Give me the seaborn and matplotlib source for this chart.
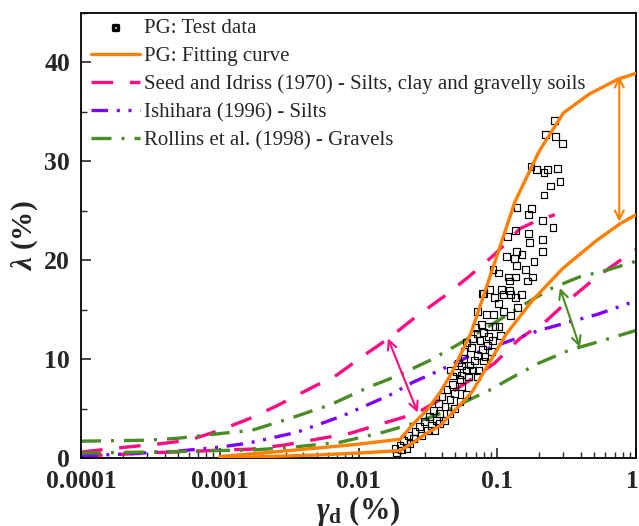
import numpy as np
import pandas as pd
import matplotlib
matplotlib.use("Agg")
import matplotlib.pyplot as plt
import matplotlib.ticker as mticker
import matplotlib.transforms as mtransforms
import seaborn as sns

# ---------------- data ----------------
test_x = [0.257, 0.224, 0.262, 0.297, 0.175, 0.193, 0.230, 0.217, 0.270, 0.283,
          0.243, 0.217, 0.139, 0.176, 0.169, 0.211, 0.252, 0.136, 0.118, 0.168,
          0.171, 0.211, 0.137, 0.151, 0.116, 0.133, 0.213, 0.184, 0.137, 0.0932,
          0.102, 0.160, 0.120, 0.136, 0.122, 0.180, 0.165, 0.078, 0.0888, 0.108,
          0.122, 0.111, 0.149, 0.096, 0.136, 0.080, 0.125, 0.102, 0.0725, 0.0834,
          0.094, 0.111, 0.124, 0.140, 0.0774, 0.087, 0.0964, 0.103, 0.070, 0.0714,
          0.080, 0.086, 0.0924, 0.105, 0.066, 0.060, 0.0752, 0.0845, 0.091, 0.078,
          0.0654, 0.0576, 0.072, 0.0817, 0.069, 0.0794, 0.0576, 0.0554, 0.0637, 0.0735,
          0.0507, 0.0525, 0.0602, 0.0667, 0.0551, 0.0474, 0.0618, 0.0456, 0.0539, 0.0714,
          0.0474, 0.0551, 0.0434, 0.0495, 0.0602, 0.0400, 0.0456, 0.0539, 0.0376, 0.0420,
          0.0495, 0.0345, 0.0386, 0.0456, 0.0327, 0.0366, 0.0420, 0.0301, 0.0335, 0.0386,
          0.0277, 0.0313, 0.0356, 0.0255, 0.0284, 0.0228, 0.0248, 0.0210, 0.0235, 0.0199,
          0.0183, 0.0205, 0.0189, 0.0224]
test_y = [34.1, 32.7, 32.5, 31.8, 29.5, 29.2, 29.2, 28.9, 29.3, 28.0,
          27.5, 26.6, 25.3, 25.2, 24.6, 24.0, 23.3, 23.0, 22.4, 22.7,
          21.8, 22.1, 20.9, 20.6, 20.4, 20.2, 20.9, 19.9, 19.5, 19.1,
          18.7, 19.1, 18.3, 18.3, 17.9, 18.3, 17.9, 16.6, 17.0, 17.0,
          16.9, 16.5, 16.5, 16.2, 16.2, 16.6, 16.5, 15.6, 14.8, 14.5,
          14.5, 14.8, 14.4, 15.2, 13.5, 13.3, 13.3, 13.3, 13.2, 12.6,
          12.7, 12.3, 11.9, 12.4, 12.1, 11.7, 11.9, 11.4, 10.8, 11.0,
          11.2, 10.8, 10.4, 10.3, 9.9, 9.8, 10.1, 9.3, 9.4, 8.9,
          8.7, 9.6, 8.9, 8.9, 8.4, 8.3, 8.2, 8.9, 7.9, 8.2,
          7.4, 7.2, 6.9, 6.5, 6.4, 6.2, 5.9, 5.7, 5.5, 5.2,
          5.0, 4.8, 4.5, 4.5, 4.2, 3.8, 3.8, 3.7, 3.3, 3.5,
          3.2, 2.8, 2.8, 2.7, 2.3, 2.3, 2.0, 1.8, 1.5, 1.3,
          1.0, 0.8, 0.5, 1.0]

pg_up_x = [0.001, 0.002, 0.005, 0.01, 0.02, 0.025, 0.031, 0.0386, 0.047, 0.065,
           0.096, 0.134, 0.2, 0.3, 0.46, 0.74, 1.0]
pg_up_y = [0.15, 0.5, 1.0, 1.4, 1.9, 3.5, 4.8, 6.6, 8.6, 12.7,
           19.8, 25.9, 31.0, 34.9, 36.8, 38.3, 38.9]
pg_lo_x = [0.001, 0.005, 0.01, 0.02, 0.025, 0.031, 0.039, 0.047, 0.056, 0.066,
           0.084, 0.117, 0.181, 0.298, 0.52, 0.77, 1.0]
pg_lo_y = [0.0, 0.3, 0.5, 0.75, 1.6, 2.5, 3.3, 4.5, 5.6, 6.7,
           9.2, 12.6, 16.0, 19.2, 22.0, 23.7, 24.6]

seed_up_x = [1e-4, 1.8e-4, 3.5e-4, 6e-4, 1e-3, 1.65e-3, 2.6e-3, 4.3e-3, 7e-3, 0.011,
             0.0165, 0.026, 0.041, 0.062, 0.096, 0.146, 0.2, 0.26]
seed_up_y = [0.6, 1.0, 1.4, 1.8, 2.8, 4.0, 5.3, 6.9, 8.4, 10.4,
             12.1, 14.3, 16.3, 18.3, 20.6, 23.2, 24.1, 24.6]
seed_lo_x = [1e-4, 1.8e-4, 3.5e-4, 6e-4, 1e-3, 1.7e-3, 2.9e-3, 5e-3, 8.7e-3, 0.015,
             0.026, 0.041, 0.064, 0.096, 0.146, 0.227, 0.33, 0.52, 0.91, 1.0]
seed_lo_y = [0.2, 0.35, 0.55, 0.65, 0.8, 0.9, 1.3, 1.9, 2.5, 3.5,
             4.5, 6.1, 7.9, 9.6, 12.1, 13.9, 16.0, 18.3, 20.7, 21.1]

ishi_x = [1e-4, 2e-4, 5e-4, 1e-3, 1.6e-3, 3.6e-3, 7.8e-3, 0.017, 0.025, 0.035,
          0.07, 0.1, 0.2, 0.32, 0.52, 1.0]
ishi_y = [0.2, 0.4, 0.7, 1.1, 1.5, 2.6, 4.3, 6.4, 7.7, 8.6,
          10.6, 11.4, 12.9, 13.7, 14.5, 15.9]

roll_up_x = [1e-4, 3e-4, 5e-4, 9e-4, 1.7e-3, 3.2e-3, 6.3e-3, 0.012, 0.019, 0.033,
             0.054, 0.089, 0.155, 0.25, 0.39, 0.62, 1.0]
roll_up_y = [1.7, 1.8, 2.0, 2.4, 2.8, 4.0, 5.4, 7.2, 8.3, 9.9,
             11.6, 13.4, 15.5, 17.2, 18.3, 19.0, 19.9]
roll_lo_x = [1e-4, 3e-4, 5e-4, 9e-4, 1.7e-3, 3.4e-3, 7.4e-3, 0.015, 0.025, 0.039,
             0.057, 0.089, 0.13, 0.2, 0.33, 0.52, 1.0]
roll_lo_y = [0.5, 0.6, 0.65, 0.75, 0.8, 1.1, 1.6, 2.6, 3.5, 4.5,
             5.6, 6.9, 8.2, 9.6, 10.9, 11.7, 12.9]

# double arrows: (x_start, y_start, x_end, y_end)
arrow_pg = (0.758, 38.6, 0.758, 23.9)
arrow_seed = (0.0163, 12.1, 0.0267, 4.6)
arrow_roll = (0.283, 17.2, 0.394, 11.2)

x_ticks = [0.0001, 0.001, 0.01, 0.1, 1]
x_tick_labels = ["0.0001", "0.001", "0.01", "0.1", "1"]
y_ticks = [0, 10, 20, 30, 40]

labels = ["PG: Test data", "PG: Fitting curve",
          "Seed and Idriss (1970) - Silts, clay and gravelly soils",
          "Ishihara (1996) - Silts", "Rollins et al. (1998) - Gravels"]

# ---------------- style ----------------
sns.set_theme(style="white")
plt.rcParams["font.family"] = ["Liberation Serif", "DejaVu Serif"]
plt.rcParams["mathtext.fontset"] = "custom"
plt.rcParams["mathtext.it"] = "Liberation Serif:italic:bold"
plt.rcParams["mathtext.bf"] = "Liberation Serif:bold"
plt.rcParams["mathtext.rm"] = "Liberation Serif:bold"

C_OR = "#FF7F00"
C_PK = "#FF0A82"
C_PU = "#8000FF"
C_GR = "#4A8C26"

fig = plt.figure(figsize=(6.39, 5.26), dpi=100)
ax = fig.add_axes([81 / 639, 68 / 526, 555 / 639, 445 / 526])

LW = 2.4
sns.scatterplot(x=test_x, y=test_y, ax=ax, marker="s", s=24, facecolor="none",
                edgecolor="black", linewidth=0.85, label=labels[0], zorder=3)
sns.lineplot(x=pg_up_x, y=pg_up_y, ax=ax, color=C_OR, lw=LW, label=labels[1],
             sort=False, zorder=4)
sns.lineplot(x=pg_lo_x, y=pg_lo_y, ax=ax, color=C_OR, lw=LW, sort=False, zorder=4)

dash_pk = (0, (6.5, 5.0))
dash_pu = (0, (5.0, 2.6, 0.9, 2.6, 0.9, 2.6))
dash_gr = (0, (6.0, 3.0, 0.9, 3.0))
sns.lineplot(x=seed_up_x, y=seed_up_y, ax=ax, color=C_PK, lw=LW, linestyle=dash_pk,
             label=labels[2], sort=False, zorder=2)
sns.lineplot(x=seed_lo_x, y=seed_lo_y, ax=ax, color=C_PK, lw=LW, linestyle=dash_pk,
             sort=False, zorder=2)
sns.lineplot(x=ishi_x, y=ishi_y, ax=ax, color=C_PU, lw=LW, linestyle=dash_pu,
             label=labels[3], sort=False, zorder=2)
sns.lineplot(x=roll_up_x, y=roll_up_y, ax=ax, color=C_GR, lw=LW, linestyle=dash_gr,
             label=labels[4], sort=False, zorder=2)
sns.lineplot(x=roll_lo_x, y=roll_lo_y, ax=ax, color=C_GR, lw=LW, linestyle=dash_gr,
             sort=False, zorder=2)

for arr, col in [(arrow_pg, C_OR), (arrow_seed, C_PK), (arrow_roll, C_GR)]:
    ax.annotate("", xy=(arr[2], arr[3]), xytext=(arr[0], arr[1]),
                arrowprops=dict(arrowstyle="<->", color=col, lw=1.5,
                                mutation_scale=16, shrinkA=0, shrinkB=0),
                zorder=5)

ax.set_xscale("log")
ax.set_xlim(1e-4, 1)
ax.set_ylim(0, 45)
ax.set_xticks(x_ticks)
ax.xaxis.set_major_formatter(mticker.FixedFormatter(x_tick_labels))
ax.xaxis.set_minor_locator(mticker.LogLocator(base=10, subs=np.arange(2, 10)))
ax.xaxis.set_minor_formatter(mticker.NullFormatter())
ax.set_yticks(y_ticks)
ax.yaxis.set_minor_locator(mticker.MultipleLocator(5))

ax.tick_params(which="major", direction="in", length=7, width=1.2,
               labelsize=18.5, top=False, right=False, bottom=True, left=True)
ax.tick_params(axis="x", which="major", pad=9)
ax.tick_params(axis="y", which="major", pad=8)
ax.tick_params(which="minor", direction="in", length=4, width=1.0,
               top=False, right=False, bottom=True, left=True)
xt_labels = ax.get_xticklabels()
for lab in xt_labels + ax.get_yticklabels():
    lab.set_fontweight("bold")
# keep the last x label ("1") inside the figure edge
shift = mtransforms.ScaledTranslation(-4 / 100, 0, fig.dpi_scale_trans)
xt_labels[-1].set_transform(xt_labels[-1].get_transform() + shift)
for sp in ax.spines.values():
    sp.set_color("black")
    sp.set_linewidth(1.3)

ax.set_xlabel(r"$\gamma_{\mathbf{d}}$ (%)", fontsize=22, fontweight="bold", labelpad=0)
ax.set_ylabel(r"$\lambda$ (%)", fontsize=21, fontweight="bold", labelpad=3)

leg = ax.legend(loc="upper left", bbox_to_anchor=(0.009, 1.0), frameon=False,
                fontsize=15, handlelength=2.35, handletextpad=0.2,
                labelspacing=0.41, borderaxespad=0.15, borderpad=0.1,
                markerscale=0.7)
for h in leg.legend_handles:
    try:
        h.set_linewidth(2.4)
    except Exception:
        pass

fig.savefig("out.png", dpi=100)
